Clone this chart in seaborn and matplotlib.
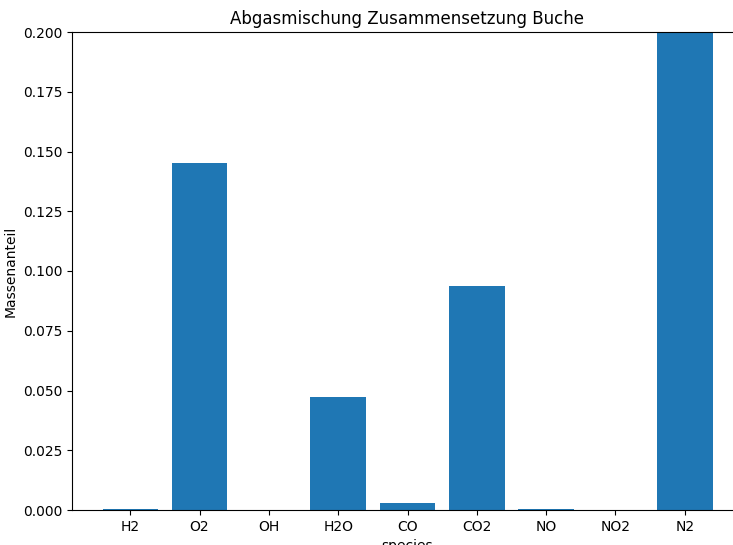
import matplotlib
matplotlib.use("Agg")
import matplotlib.pyplot as plt
import seaborn as sns
import pandas as pd

species = ["H2", "O2", "OH", "H2O", "CO", "CO2", "NO", "NO2", "N2"]
massenanteil = [0.0004, 0.1451, 0.0001, 0.0473, 0.0028, 0.0937, 0.0004, 0.00002, 0.71]

df = pd.DataFrame({"species": species, "Massenanteil": massenanteil})

plt.rcParams["font.family"] = ["DejaVu Sans"]
fig = plt.figure(figsize=(7.33, 5.45), dpi=100)
ax = fig.add_axes([72 / 733, 35 / 545, 671 / 733, 478 / 545])

sns.barplot(data=df, x="species", y="Massenanteil", color="#1f77b4",
            saturation=1, width=0.8, linewidth=0, ax=ax)

ax.set_xlim(-0.84, len(species) - 1 + 0.84)
ax.set_ylim(0, 0.2)
ax.set_yticks([0.0, 0.025, 0.05, 0.075, 0.1, 0.125, 0.15, 0.175, 0.2])
ax.set_yticklabels(["0.000", "0.025", "0.050", "0.075", "0.100", "0.125", "0.150", "0.175", "0.200"])
ax.spines["right"].set_visible(False)
ax.set_title("Abgasmischung Zusammensetzung Buche", fontsize=12)
ax.set_xlabel("species")
ax.set_ylabel("Massenanteil")

fig.savefig("out.png", dpi=100)
